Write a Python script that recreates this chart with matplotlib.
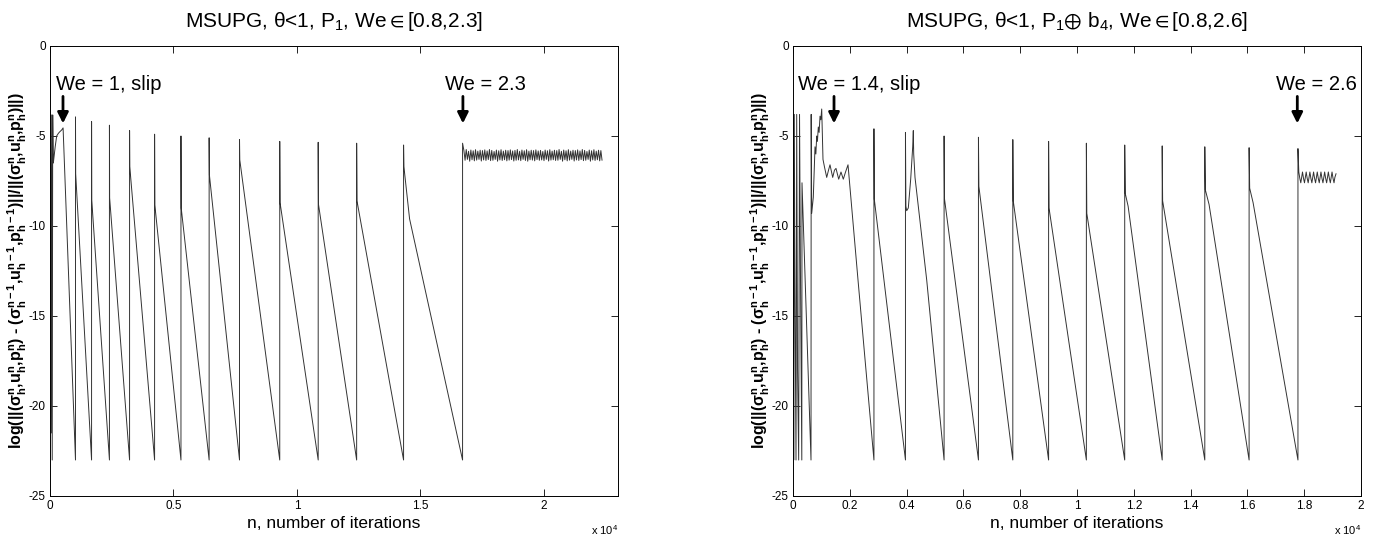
import matplotlib
matplotlib.use('Agg')
import matplotlib.pyplot as plt
from matplotlib.ticker import FuncFormatter

plt.rcParams['font.family'] = ['Liberation Sans', 'DejaVu Sans']
plt.rcParams['mathtext.fontset'] = 'custom'
plt.rcParams['mathtext.rm'] = 'Liberation Sans'
plt.rcParams['mathtext.it'] = 'Liberation Sans:italic'
plt.rcParams['mathtext.bf'] = 'Liberation Sans:bold'
plt.rcParams['mathtext.default'] = 'regular'
plt.rcParams['axes.unicode_minus'] = False

# ---- left panel: P1, We in [0.8, 2.3] ----
left_n = [20, 20, 45, 68, 90, 110, 135, 210, 270, 340, 400, 470, 530,
          1032, 1032, 1040,
          1683, 1683, 1690,
          2407, 2407, 2415,
          3222, 3222, 3230,
          4235, 4235, 4245,
          5303, 5303, 5313,
          6444, 6444, 6455,
          7674, 7674, 7685,
          9303, 9303, 9315,
          10860, 10860, 10872,
          12417, 12417, 12430,
          14317, 14317, 14330, 14560,
          16706, 16706]
left_res = [-13.5, -3.83, -21.5, -3.83, -23, -3.83, -6.5, -5.6, -5.0, -4.85, -4.76, -4.67, -4.55,
            -23, -3.94, -7.1,
            -23, -4.2, -8.56,
            -23, -4.4, -8.44,
            -23, -4.7, -6.7,
            -23, -4.9, -8.83,
            -23, -5.0, -9.0,
            -23, -5.1, -7.17,
            -23, -5.2, -6.33,
            -23, -5.3, -8.7,
            -23, -5.35, -8.8,
            -23, -5.4, -8.6,
            -23, -5.5, -6.7, -9.6,
            -23, -5.4]
# oscillating tail after We = 2.3
left_tail_n = list(range(16760, 22400, 47))
left_tail_res = [-5.80, -6.35, -5.75, -6.30, -5.85, -6.40, -5.78, -6.32, -5.82, -6.38,
                 -5.76, -6.34, -5.84, -6.30, -5.79, -6.39, -5.81, -6.33, -5.77, -6.36,
                 -5.83, -6.31, -5.75, -6.37, -5.80, -6.35, -5.86, -6.30, -5.78, -6.40,
                 -5.82, -6.33, -5.76, -6.36, -5.84, -6.32, -5.79, -6.38, -5.81, -6.34,
                 -5.77, -6.31, -5.83, -6.39, -5.80, -6.35, -5.75, -6.33, -5.85, -6.37,
                 -5.78, -6.30, -5.82, -6.36, -5.76, -6.40, -5.84, -6.32, -5.79, -6.34,
                 -5.81, -6.38, -5.77, -6.31, -5.83, -6.35, -5.80, -6.33, -5.86, -6.37,
                 -5.78, -6.30, -5.82, -6.39, -5.76, -6.34, -5.84, -6.32, -5.79, -6.36,
                 -5.81, -6.35, -5.75, -6.30, -5.85, -6.40, -5.78, -6.32, -5.82, -6.38,
                 -5.76, -6.34, -5.84, -6.30, -5.79, -6.39, -5.81, -6.33, -5.77, -6.36,
                 -5.83, -6.31, -5.75, -6.37, -5.80, -6.35, -5.86, -6.30, -5.78, -6.40,
                 -5.82, -6.33, -5.76, -6.36, -5.84, -6.32, -5.79, -6.38, -5.81, -6.34]

# ---- right panel: P1 + b4, We in [0.8, 2.6] ----
right_n = [15, 25, 45, 70, 106, 130, 160, 200, 230, 260, 310, 317, 634, 640,
           658, 715, 775, 805, 835, 860, 891, 920, 951, 980, 1011,
           1056, 1106, 1187, 1250, 1303, 1398, 1460, 1514, 1609, 1690, 1771, 1850, 1937,
           2289, 2850, 2850, 2862,
           3960, 3960, 3975, 4003, 4060, 4144, 4215, 4236, 4250, 4296, 4708,
           5320, 5320, 5335,
           6530, 6530, 6545,
           7740, 7740, 7755,
           9000, 9000, 9015,
           10330, 10330, 10345,
           11680, 11680, 11700, 11800,
           13000, 13000, 13015,
           14500, 14500, 14520, 14650,
           16060, 16060, 16080, 16200,
           17780, 17780]
right_res = [-3.8, -23, -3.8, -14, -23, -3.8, -18, -23, -3.8, -12, -23, -7.6, -23, -3.8,
             -9.3, -8.4, -5.6, -6.0, -5.0, -5.3, -4.5, -4.8, -3.9, -4.1, -3.5,
             -6.3, -6.7, -7.3, -6.9, -6.6, -7.3, -6.9, -6.8, -7.4, -7.0, -7.4, -7.0, -6.6,
             -13, -23, -4.6, -8.5,
             -23, -4.8, -8.9, -9.15, -9.0, -7.4, -5.6, -4.7, -6.0, -7.3, -13,
             -23, -5.0, -8.5,
             -23, -5.07, -7.8,
             -23, -5.2, -8.6,
             -23, -5.3, -9.0,
             -23, -5.4, -9.3,
             -23, -5.5, -8.2, -8.9,
             -23, -5.55, -8.6,
             -23, -5.6, -8.0, -8.8,
             -23, -5.65, -7.9, -8.7,
             -23, -5.7]
# oscillating tail after We = 2.6
right_tail_n = [17810, 17845, 17880, 17910, 17940, 17975, 18010, 18040, 18070, 18105,
                18140, 18170, 18200, 18235, 18270, 18300, 18330, 18365, 18400, 18430,
                18460, 18495, 18530, 18560, 18590, 18625, 18660, 18690, 18720, 18755,
                18790, 18820, 18850, 18885, 18920, 18950, 18980, 19015, 19050, 19080, 19120]
right_tail_res = [-7.0, -7.35, -7.6, -7.3, -7.0, -7.35, -7.6, -7.3, -7.0, -7.35,
                  -7.6, -7.3, -7.0, -7.35, -7.6, -7.3, -7.0, -7.35, -7.6, -7.3,
                  -7.0, -7.35, -7.6, -7.3, -7.0, -7.35, -7.6, -7.3, -7.0, -7.35,
                  -7.6, -7.3, -7.0, -7.35, -7.6, -7.3, -7.0, -7.35, -7.6, -7.3, -7.1]

ylab = (r'log(||($\sigma_h^n$,$u_h^n$,$p_h^n$) - ($\sigma_h^{n-1}$,$u_h^{n-1}$,$p_h^{n-1}$)||'
        r'/||($\sigma_h^n$,$u_h^n$,$p_h^n$)||)')

fig = plt.figure(figsize=(13.86, 5.35), dpi=100)
axL = fig.add_axes([50/1386, 39/535, 568/1386, 450/535])
axR = fig.add_axes([793/1386, 39/535, 568/1386, 450/535])

panels = [
    (axL, left_n + left_tail_n, left_res + left_tail_res[:len(left_tail_n)], 23000, 5000,
     r'MSUPG, $\theta$<1, P$_1$, We$\in$[0.8,2.3]'),
    (axR, right_n + right_tail_n, right_res + right_tail_res, 20000, 2000,
     r'MSUPG, $\theta$<1, P$_1$$\oplus$ b$_4$, We$\in$[0.8,2.6]'),
]

for ax, xs, ys, xmax, step, title in panels:
    ax.plot(xs, ys, color='0.2', lw=0.7)
    ax.set_xlim(0, xmax)
    ax.set_ylim(-25, 0)
    ax.set_xticks(range(0, xmax + 1, step))
    ax.set_yticks([0, -5, -10, -15, -20, -25])
    ax.xaxis.set_major_formatter(FuncFormatter(lambda v, p: '%g' % (v / 1e4)))
    ax.tick_params(direction='in', top=True, right=True, length=5, width=0.6,
                   labelsize=8.5, pad=3)
    for s in ax.spines.values():
        s.set_linewidth(0.7)
    ax.set_title(title, fontsize=15, pad=14)
    ax.set_xlabel('n, number of iterations', fontsize=12.5)
    ax.xaxis.set_label_coords(0.5, -0.045)
    ax.set_ylabel(ylab, fontsize=11.5, fontweight='bold')
    ax.yaxis.set_label_coords(-0.037, 0.5)
    ax.text(1.0, -0.075, r'x 10$^4$', transform=ax.transAxes, ha='right',
            va='center', fontsize=8)

arrows = [
    (axL, 243, 526, 'We = 1, slip'),
    (axL, 15990, 16720, 'We = 2.3'),
    (axR, 176, 1444, 'We = 1.4, slip'),
    (axR, 17000, 17757, 'We = 2.6'),
]
for ax, tx, ax_x, label in arrows:
    ax.text(tx, -2.44, label, fontsize=14.5, va='baseline', ha='left')
    ax.annotate('', xy=(ax_x, -4.3), xytext=(ax_x, -2.8),
                arrowprops=dict(arrowstyle='-|>', lw=2, color='k',
                                mutation_scale=16, shrinkA=0, shrinkB=0))

fig.savefig('out.png', dpi=100)
